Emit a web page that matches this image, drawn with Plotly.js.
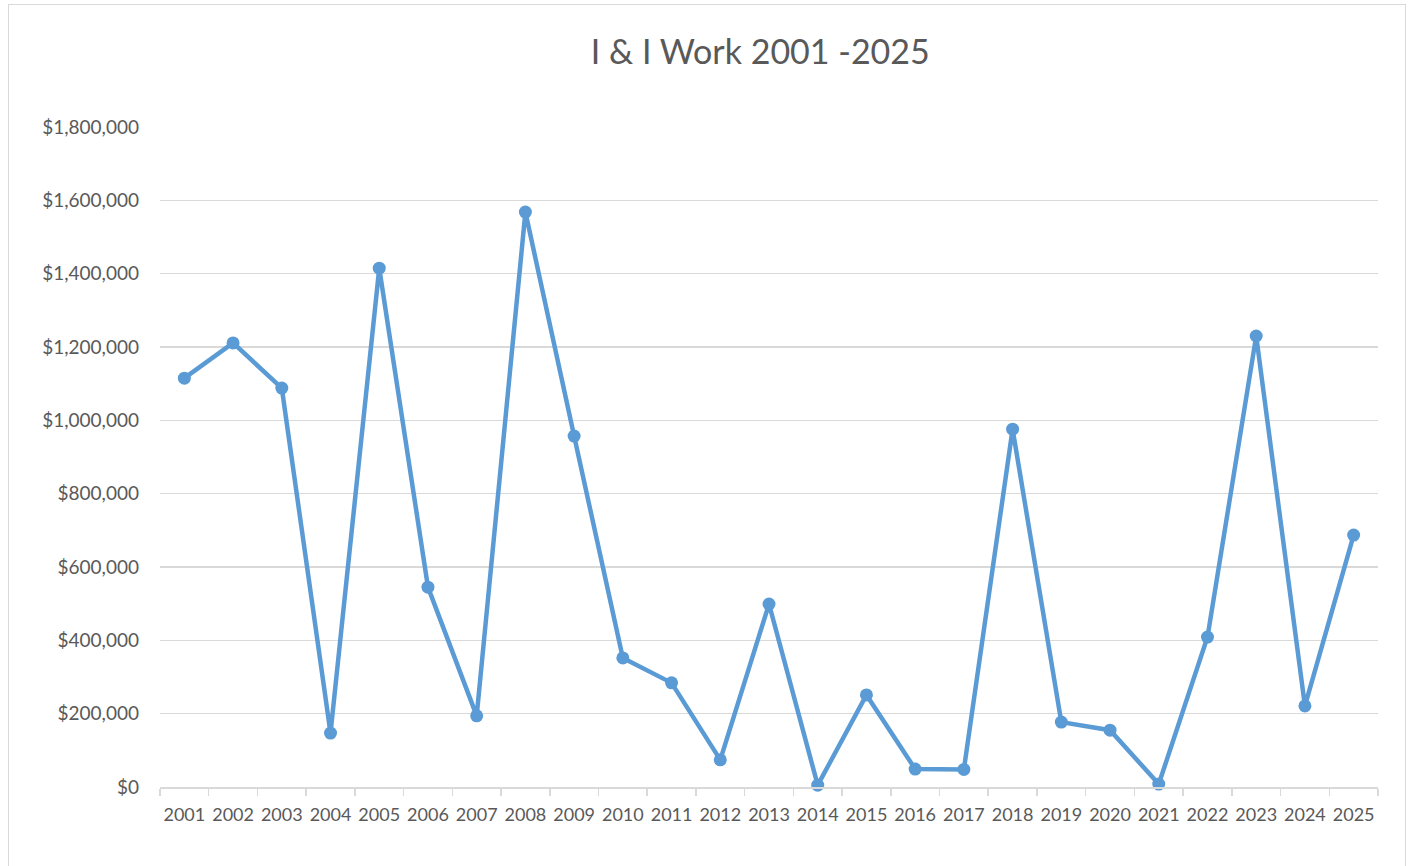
<!DOCTYPE html>
<html>
<head>
<meta charset="utf-8">
<script src="https://cdn.plot.ly/plotly-3.0.1.min.js"></script>
<style>
html, body { margin: 0; padding: 0; background: #fff; }
#chart { width: 1408px; height: 866px; }
#frame { position: absolute; left: 8px; top: 4px; width: 1398px; height: 870px; border: 1px solid #d9d9d9; pointer-events: none; box-sizing: border-box; }
</style>
</head>
<body>
<div id="chart"></div>
<div id="frame"></div>
<script>
const years = ['2001','2002','2003','2004','2005','2006','2007','2008','2009','2010','2011','2012','2013',
  '2014','2015','2016','2017','2018','2019','2020','2021','2022','2023','2024','2025'];
const amounts = [1115000, 1211000, 1088000, 147000, 1415000, 545000, 194000, 1568000, 957000, 352000,
  284000, 74000, 499000, 5000, 251000, 49000, 48000, 976000, 177000, 155000, 8000, 409000, 1230000, 221000, 687000];
const yTicks = [0, 200000, 400000, 600000, 800000, 1000000, 1200000, 1400000, 1600000, 1800000];

const fontFam = 'Lato, "Open Sans", sans-serif';
Plotly.newPlot('chart', [{
  type: 'scatter',
  mode: 'lines+markers',
  x: years,
  y: amounts,
  line: { color: '#5B9BD5', width: 4.5 },
  marker: { color: '#5B9BD5', size: 13 },
  cliponaxis: false,
  hoverinfo: 'x+y'
}], {
  width: 1408,
  height: 866,
  margin: { l: 160, r: 30, t: 127, b: 79 },
  paper_bgcolor: '#ffffff',
  plot_bgcolor: '#ffffff',
  showlegend: false,
  title: { text: 'I & I Work 2001 -2025', x: 0.54, xanchor: 'center', y: 0.94, yanchor: 'middle',
    font: { family: fontFam, size: 34, color: '#595959' } },
  xaxis: {
    type: 'category',
    range: [-0.5, years.length - 0.5],
    tickson: 'boundaries',
    tickangle: 0,
    ticks: 'outside', ticklen: 7, tickcolor: '#d9d9d9', tickwidth: 1.5,
    showline: true, linecolor: '#d9d9d9', linewidth: 1.5,
    showgrid: false,
    tickfont: { family: fontFam, size: 18, color: '#595959' },
    ticklabelstandoff: 11,
    fixedrange: true
  },
  yaxis: {
    range: [0, 1800000],
    tickvals: yTicks,
    tickformat: '$,.0f',
    showgrid: true, gridcolor: '#d9d9d9', gridwidth: 1.2,
    zeroline: false, showline: false,
    ticks: '',
    tickfont: { family: fontFam, size: 19, color: '#595959' },
    ticklabelstandoff: 20,
    fixedrange: true
  }
}, { displayModeBar: false, staticPlot: true });
</script>
</body>
</html>
